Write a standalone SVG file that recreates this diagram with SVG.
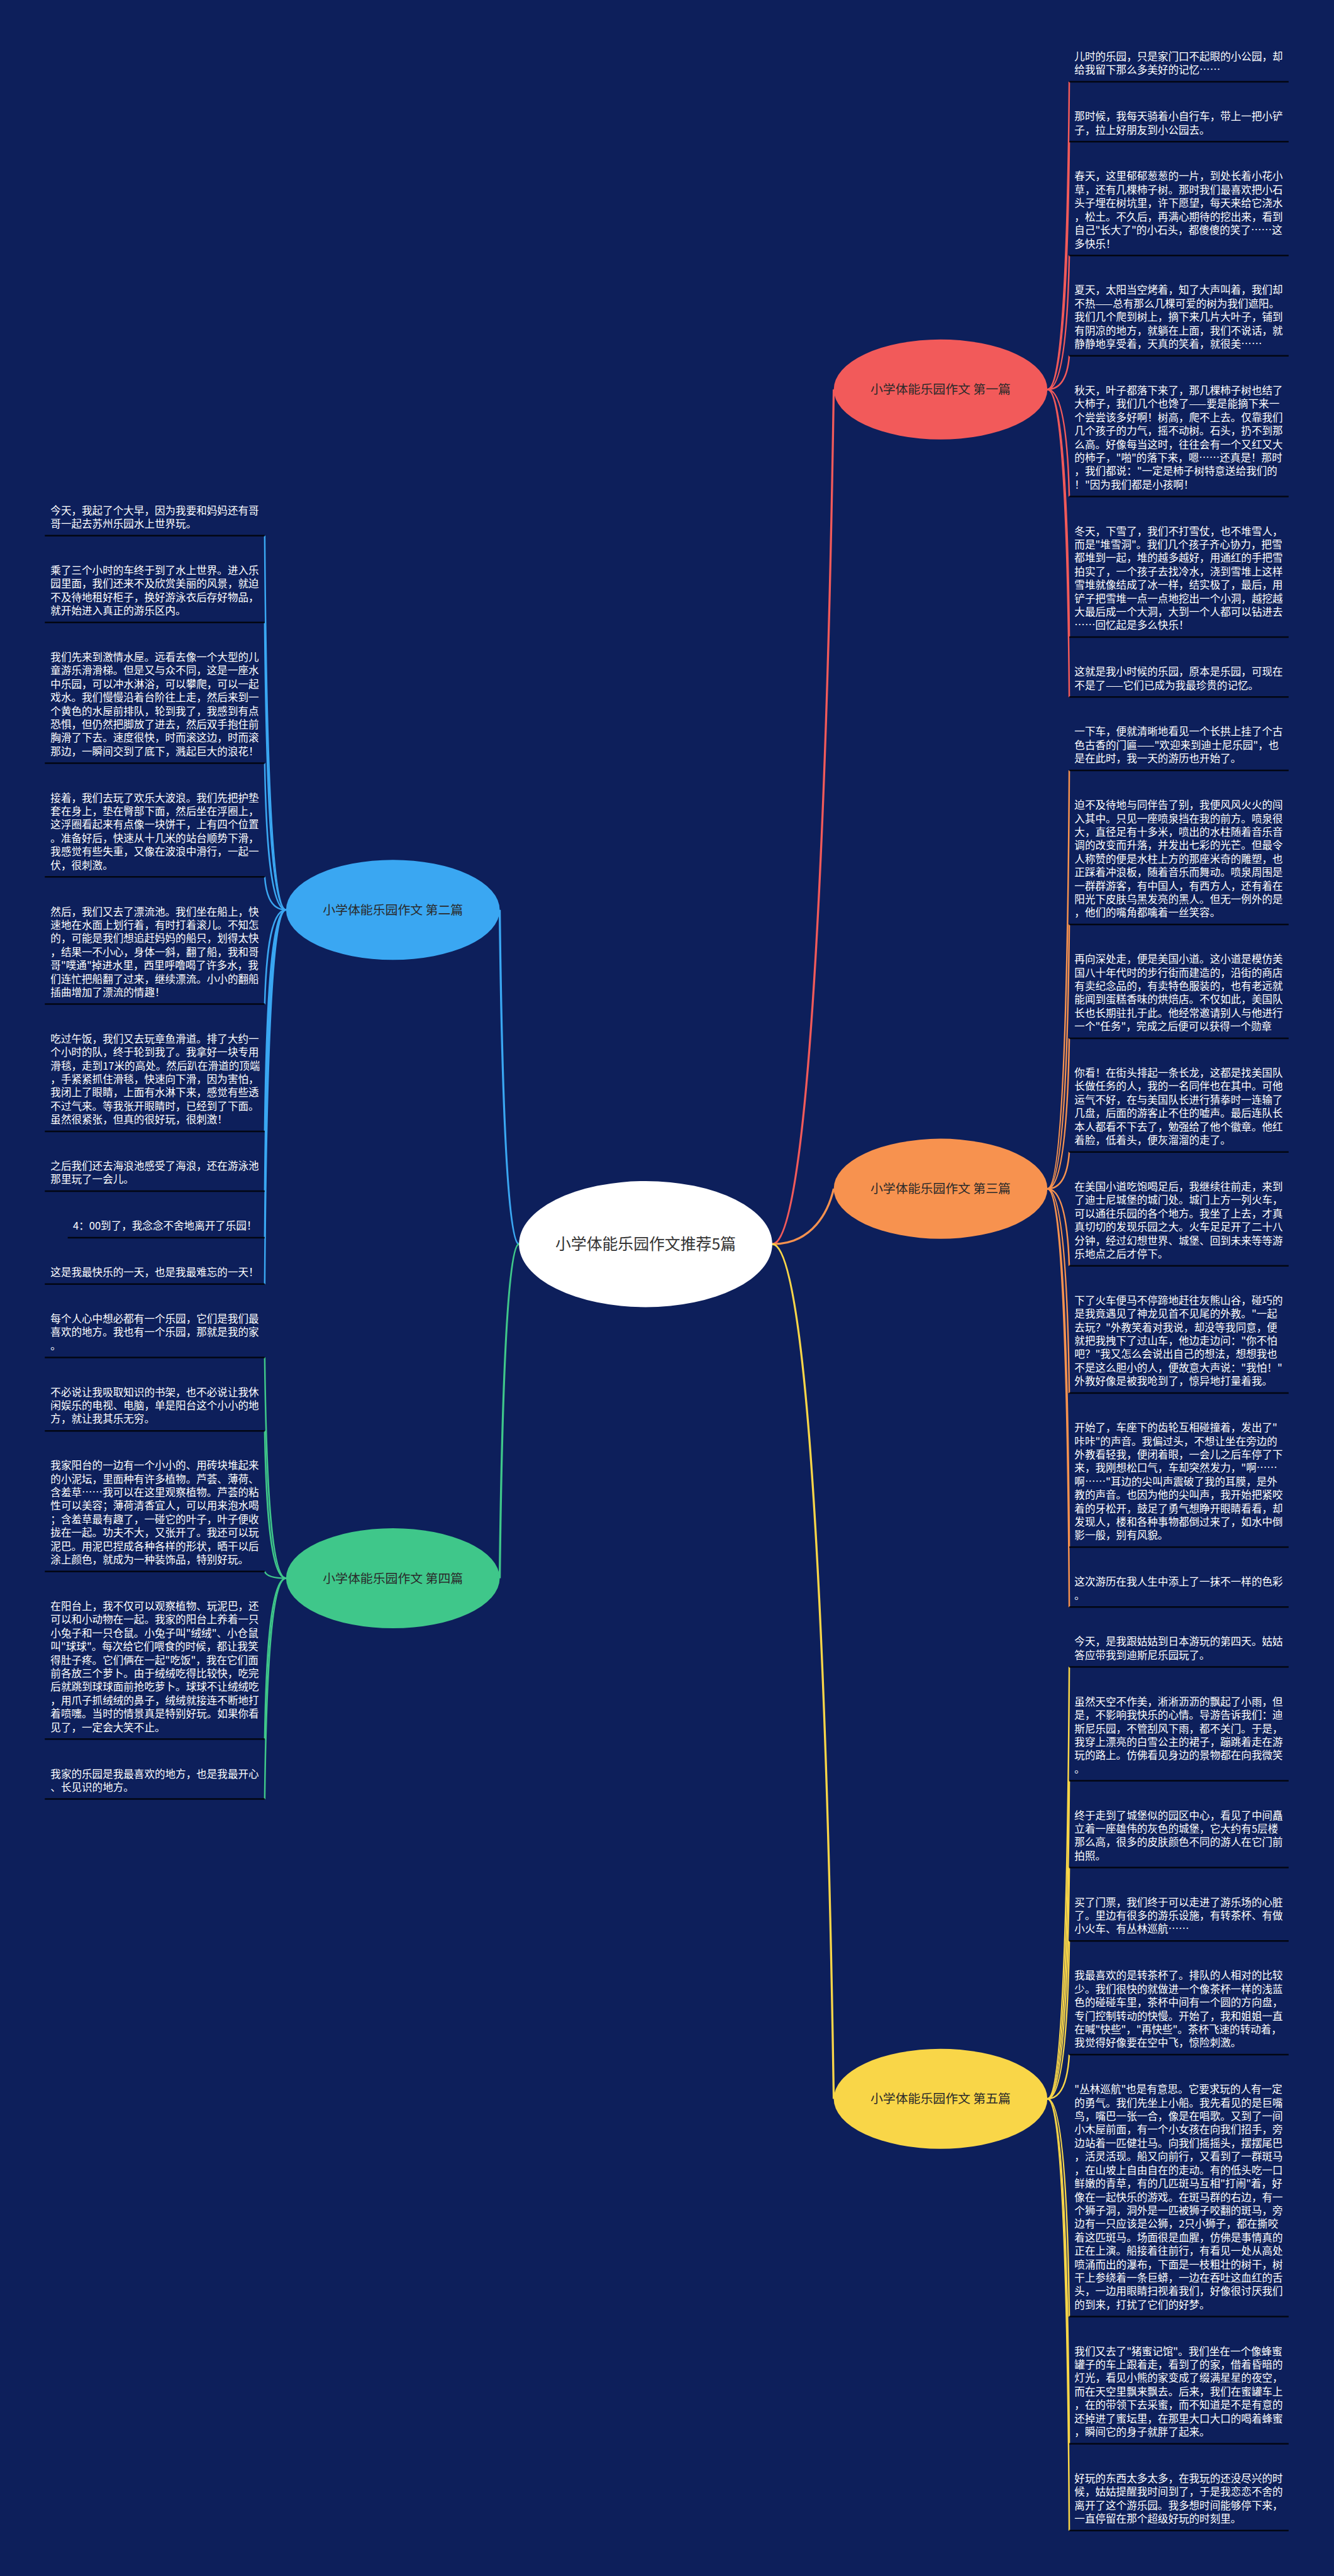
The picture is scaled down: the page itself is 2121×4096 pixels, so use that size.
<svg xmlns="http://www.w3.org/2000/svg" width="2121" height="4096" viewBox="0 0 2121 4096">
<style>
.t{font-family:"Noto Sans CJK SC","Noto Sans",sans-serif;font-size:20px;fill:#ffffff}
.u{stroke:#000;stroke-opacity:0.8;stroke-width:3}
.nt{font-family:"Noto Sans CJK SC","Noto Sans",sans-serif;font-size:24px;fill:#2a2a2a;text-anchor:middle}
.ct{font-family:"Noto Sans CJK SC","Noto Sans",sans-serif;font-size:30px;fill:#333;text-anchor:middle}
.c{fill:none;stroke-width:3}
.m{fill:none;stroke-width:4}
</style>
<rect width="2121" height="4096" fill="#0d1f5b"/>
<g transform="scale(0.8285)">
<g id="connectors">
<path class="m" stroke="#F25A5A" d="M1482,2387.7 C1560,2387.7 1590,1403.5 1600,747.4"/>
<path class="m" stroke="#F7924F" d="M1482,2387.7 C1560,2387.7 1590,2323.9 1600,2281.4"/>
<path class="m" stroke="#F9D648" d="M1482,2387.7 C1560,2387.7 1590,3371.9 1600,4028"/>
<path class="m" stroke="#3AA7F2" d="M996,2387.7 C970,2387.7 962,2002.8 959,1746.2"/>
<path class="m" stroke="#3FC78A" d="M996,2387.7 C970,2387.7 962,2772.5 959,3029"/>
<g stroke="#F25A5A">
<path class="c" d="M2010,747.4 C2043,747.4 2050,393.2 2052,157"/>
<path class="c" d="M2010,747.4 C2043,747.4 2050,462.2 2052,272"/>
<path class="c" d="M2010,747.4 C2043,747.4 2050,593.1 2052,490.3"/>
<path class="c" d="M2010,747.4 C2043,747.4 2050,708.6 2052,682.8"/>
<path class="c" d="M2010,747.4 C2043,747.4 2050,870.6 2052,952.8"/>
<path class="c" d="M2010,747.4 C2043,747.4 2050,1032.6 2052,1222.8"/>
<path class="c" d="M2010,747.4 C2043,747.4 2050,1101.6 2052,1337.7"/>
</g>
<g stroke="#F7924F">
<path class="c" d="M2010,2281.4 C2043,2281.4 2050,1799.7 2052,1478.5"/>
<path class="c" d="M2010,2281.4 C2043,2281.4 2050,1977.2 2052,1774.4"/>
<path class="c" d="M2010,2281.4 C2043,2281.4 2050,2108.2 2052,1992.7"/>
<path class="c" d="M2010,2281.4 C2043,2281.4 2050,2239.2 2052,2211"/>
<path class="c" d="M2010,2281.4 C2043,2281.4 2050,2370.2 2052,2429.3"/>
<path class="c" d="M2010,2281.4 C2043,2281.4 2050,2516.7 2052,2673.5"/>
<path class="c" d="M2010,2281.4 C2043,2281.4 2050,2694.1 2052,2969.3"/>
<path class="c" d="M2010,2281.4 C2043,2281.4 2050,2763.1 2052,3084.3"/>
</g>
<g stroke="#F9D648">
<path class="c" d="M2010,4028 C2043,4028 2050,3530.7 2052,3199.2"/>
<path class="c" d="M2010,4028 C2043,4028 2050,3661.8 2052,3417.6"/>
<path class="c" d="M2010,4028 C2043,4028 2050,3761.7 2052,3584.2"/>
<path class="c" d="M2010,4028 C2043,4028 2050,3846.2 2052,3725"/>
<path class="c" d="M2010,4028 C2043,4028 2050,3977.2 2052,3943.3"/>
<path class="c" d="M2010,4028 C2043,4028 2050,4278.7 2052,4445.9"/>
<path class="c" d="M2010,4028 C2043,4028 2050,4425.2 2052,4690"/>
<path class="c" d="M2010,4028 C2043,4028 2050,4525.2 2052,4856.7"/>
</g>
<g stroke="#3AA7F2">
<path class="c" d="M549,1746.2 C516,1746.2 510,1315.3 508,1028"/>
<path class="c" d="M549,1746.2 C516,1746.2 510,1415.2 508,1194.6"/>
<path class="c" d="M549,1746.2 C516,1746.2 510,1577.2 508,1464.6"/>
<path class="c" d="M549,1746.2 C516,1746.2 510,1708.3 508,1683"/>
<path class="c" d="M549,1746.2 C516,1746.2 510,1854.7 508,1927.1"/>
<path class="c" d="M549,1746.2 C516,1746.2 510,2001.3 508,2171.3"/>
<path class="c" d="M549,1746.2 C516,1746.2 510,2070.2 508,2286.2"/>
<path class="c" d="M549,1746.2 C516,1746.2 510,2123.7 508,2375.4"/>
<path class="c" d="M549,1746.2 C516,1746.2 510,2177.2 508,2464.5"/>
</g>
<g stroke="#3FC78A">
<path class="c" d="M549,3029 C516,3029 510,2774.8 508,2605.3"/>
<path class="c" d="M549,3029 C516,3029 510,2859.3 508,2746.1"/>
<path class="c" d="M549,3029 C516,3029 510,3021.3 508,3016.1"/>
<path class="c" d="M549,3029 C516,3029 510,3214.3 508,3337.8"/>
<path class="c" d="M549,3029 C516,3029 510,3283.2 508,3452.7"/>
</g>
</g>

<g id="root">
<ellipse cx="1239" cy="2387.7" rx="243" ry="121" fill="#ffffff"/>
<text class="ct" x="1239" y="2398">小学体能乐园作文推荐5篇</text>
</g>
<g id="b1"><ellipse cx="1805" cy="747.4" rx="205" ry="96" fill="#F25A5A"/><text class="nt" x="1805" y="756">小学体能乐园作文 第一篇</text></g>
<g id="b3"><ellipse cx="1805" cy="2281.4" rx="205" ry="96" fill="#F7924F"/><text class="nt" x="1805" y="2290">小学体能乐园作文 第三篇</text></g>
<g id="b5"><ellipse cx="1805" cy="4028" rx="205" ry="96" fill="#F9D648"/><text class="nt" x="1805" y="4036.5">小学体能乐园作文 第五篇</text></g>
<g id="b2"><ellipse cx="754" cy="1746.2" rx="205" ry="96" fill="#3AA7F2"/><text class="nt" x="754" y="1754.8">小学体能乐园作文 第二篇</text></g>
<g id="b4"><ellipse cx="754" cy="3029" rx="205" ry="96" fill="#3FC78A"/><text class="nt" x="754" y="3037.6">小学体能乐园作文 第四篇</text></g>

<g id="r1"><line class="u" x1="2052" y1="157" x2="2473" y2="157"/><text class="t"><tspan x="2062" y="115.9">儿时的乐园，只是家门口不起眼的小公园，却</tspan><tspan x="2062" y="141.7">给我留下那么多美好的记忆……</tspan></text></g>
<g id="r2"><line class="u" x1="2052" y1="272" x2="2473" y2="272"/><text class="t"><tspan x="2062" y="230.9">那时候，我每天骑着小自行车，带上一把小铲</tspan><tspan x="2062" y="256.7">子，拉上好朋友到小公园去。</tspan></text></g>
<g id="r3"><line class="u" x1="2052" y1="490.3" x2="2473" y2="490.3"/><text class="t"><tspan x="2062" y="345.8">春天，这里郁郁葱葱的一片，到处长着小花小</tspan><tspan x="2062" y="371.6">草，还有几棵柿子树。那时我们最喜欢把小石</tspan><tspan x="2062" y="397.5">头子埋在树坑里，许下愿望，每天来给它浇水</tspan><tspan x="2062" y="423.3">，松土。不久后，再满心期待的挖出来，看到</tspan><tspan x="2062" y="449.2">自己"长大了"的小石头，都傻傻的笑了……这</tspan><tspan x="2062" y="475">多快乐！</tspan></text></g>
<g id="r4"><line class="u" x1="2052" y1="682.8" x2="2473" y2="682.8"/><text class="t"><tspan x="2062" y="564.1">夏天，太阳当空烤着，知了大声叫着，我们却</tspan><tspan x="2062" y="589.9">不热——总有那么几棵可爱的树为我们遮阳。</tspan><tspan x="2062" y="615.8">我们几个爬到树上，摘下来几片大叶子，铺到</tspan><tspan x="2062" y="641.6">有阴凉的地方，就躺在上面，我们不说话，就</tspan><tspan x="2062" y="667.5">静静地享受着，天真的笑着，就很美……</tspan></text></g>
<g id="r5"><line class="u" x1="2052" y1="952.8" x2="2473" y2="952.8"/><text class="t"><tspan x="2062" y="756.6">秋天，叶子都落下来了，那几棵柿子树也结了</tspan><tspan x="2062" y="782.4">大柿子，我们几个也馋了——要是能摘下来一</tspan><tspan x="2062" y="808.3">个尝尝该多好啊！树高，爬不上去。仅靠我们</tspan><tspan x="2062" y="834.1">几个孩子的力气，摇不动树。石头，扔不到那</tspan><tspan x="2062" y="860">么高。好像每当这时，往往会有一个又红又大</tspan><tspan x="2062" y="885.8">的柿子，"啪"的落下来，嗯……还真是！那时</tspan><tspan x="2062" y="911.7">，我们都说："一定是柿子树特意送给我们的</tspan><tspan x="2062" y="937.5">！"因为我们都是小孩啊！</tspan></text></g>
<g id="r6"><line class="u" x1="2052" y1="1222.8" x2="2473" y2="1222.8"/><text class="t"><tspan x="2062" y="1026.6">冬天，下雪了，我们不打雪仗，也不堆雪人，</tspan><tspan x="2062" y="1052.4">而是"堆雪洞"。我们几个孩子齐心协力，把雪</tspan><tspan x="2062" y="1078.3">都堆到一起，堆的越多越好，用通红的手把雪</tspan><tspan x="2062" y="1104.1">拍实了，一个孩子去找冷水，浇到雪堆上这样</tspan><tspan x="2062" y="1130">雪堆就像结成了冰一样，结实极了，最后，用</tspan><tspan x="2062" y="1155.8">铲子把雪堆一点一点地挖出一个小洞，越挖越</tspan><tspan x="2062" y="1181.7">大最后成一个大洞，大到一个人都可以钻进去</tspan><tspan x="2062" y="1207.5">……回忆起是多么快乐！</tspan></text></g>
<g id="r7"><line class="u" x1="2052" y1="1337.7" x2="2473" y2="1337.7"/><text class="t"><tspan x="2062" y="1296.6">这就是我小时候的乐园，原本是乐园，可现在</tspan><tspan x="2062" y="1322.4">不是了——它们已成为我最珍贵的记忆。</tspan></text></g>
<g id="r8"><line class="u" x1="2052" y1="1478.5" x2="2473" y2="1478.5"/><text class="t"><tspan x="2062" y="1411.5">一下车，便就清晰地看见一个长拱上挂了个古</tspan><tspan x="2062" y="1437.4">色古香的门匾——"欢迎来到迪士尼乐园"，也</tspan><tspan x="2062" y="1463.2">是在此时，我一天的游历也开始了。</tspan></text></g>
<g id="r9"><line class="u" x1="2052" y1="1774.4" x2="2473" y2="1774.4"/><text class="t"><tspan x="2062" y="1552.4">迫不及待地与同伴告了别，我便风风火火的闯</tspan><tspan x="2062" y="1578.2">入其中。只见一座喷泉挡在我的前方。喷泉很</tspan><tspan x="2062" y="1604.1">大，直径足有十多米，喷出的水柱随着音乐音</tspan><tspan x="2062" y="1629.9">调的改变而升落，并发出七彩的光芒。但最令</tspan><tspan x="2062" y="1655.8">人称赞的便是水柱上方的那座米奇的雕塑，也</tspan><tspan x="2062" y="1681.6">正踩着冲浪板，随着音乐而舞动。喷泉周围是</tspan><tspan x="2062" y="1707.4">一群群游客，有中国人，有西方人，还有着在</tspan><tspan x="2062" y="1733.3">阳光下皮肤乌黑发亮的黑人。但无一例外的是</tspan><tspan x="2062" y="1759.1">，他们的嘴角都噙着一丝笑容。</tspan></text></g>
<g id="r10"><line class="u" x1="2052" y1="1992.7" x2="2473" y2="1992.7"/><text class="t"><tspan x="2062" y="1848.2">再向深处走，便是美国小道。这小道是模仿美</tspan><tspan x="2062" y="1874">国八十年代时的步行街而建造的，沿街的商店</tspan><tspan x="2062" y="1899.9">有卖纪念品的，有卖特色服装的，也有老远就</tspan><tspan x="2062" y="1925.7">能闻到蛋糕香味的烘焙店。不仅如此，美国队</tspan><tspan x="2062" y="1951.6">长也长期驻扎于此。他经常邀请别人与他进行</tspan><tspan x="2062" y="1977.4">一个"任务"，完成之后便可以获得一个勋章</tspan></text></g>
<g id="r11"><line class="u" x1="2052" y1="2211" x2="2473" y2="2211"/><text class="t"><tspan x="2062" y="2066.5">你看！在街头排起一条长龙，这都是找美国队</tspan><tspan x="2062" y="2092.3">长做任务的人，我的一名同伴也在其中。可他</tspan><tspan x="2062" y="2118.2">运气不好，在与美国队长进行猜拳时一连输了</tspan><tspan x="2062" y="2144">几盘，后面的游客止不住的嘘声。最后连队长</tspan><tspan x="2062" y="2169.9">本人都看不下去了，勉强给了他个徽章。他红</tspan><tspan x="2062" y="2195.7">着脸，低着头，便灰溜溜的走了。</tspan></text></g>
<g id="r12"><line class="u" x1="2052" y1="2429.3" x2="2473" y2="2429.3"/><text class="t"><tspan x="2062" y="2284.8">在美国小道吃饱喝足后，我继续往前走，来到</tspan><tspan x="2062" y="2310.6">了迪士尼城堡的城门处。城门上方一列火车，</tspan><tspan x="2062" y="2336.5">可以通往乐园的各个地方。我坐了上去，才真</tspan><tspan x="2062" y="2362.3">真切切的发现乐园之大。火车足足开了二十八</tspan><tspan x="2062" y="2388.2">分钟，经过幻想世界、城堡、回到未来等等游</tspan><tspan x="2062" y="2414">乐地点之后才停下。</tspan></text></g>
<g id="r13"><line class="u" x1="2052" y1="2673.5" x2="2473" y2="2673.5"/><text class="t"><tspan x="2062" y="2503.2">下了火车便马不停蹄地赶往灰熊山谷，碰巧的</tspan><tspan x="2062" y="2529">是我竟遇见了神龙见首不见尾的外教。"一起</tspan><tspan x="2062" y="2554.9">去玩？"外教笑着对我说，却没等我同意，便</tspan><tspan x="2062" y="2580.7">就把我拽下了过山车，他边走边问："你不怕</tspan><tspan x="2062" y="2606.5">吧？"我又怎么会说出自己的想法，想想我也</tspan><tspan x="2062" y="2632.4">不是这么胆小的人，便故意大声说："我怕！"</tspan><tspan x="2062" y="2658.2">外教好像是被我呛到了，惊异地打量着我。</tspan></text></g>
<g id="r14"><line class="u" x1="2052" y1="2969.3" x2="2473" y2="2969.3"/><text class="t"><tspan x="2062" y="2747.3">开始了，车座下的齿轮互相碰撞着，发出了"</tspan><tspan x="2062" y="2773.1">咔咔"的声音。我偏过头，不想让坐在旁边的</tspan><tspan x="2062" y="2799">外教看轻我，便闭着眼，一会儿之后车停了下</tspan><tspan x="2062" y="2824.8">来，我刚想松口气，车却突然发力，"啊……</tspan><tspan x="2062" y="2850.7">啊……"耳边的尖叫声震破了我的耳膜，是外</tspan><tspan x="2062" y="2876.5">教的声音。也因为他的尖叫声，我开始把紧咬</tspan><tspan x="2062" y="2902.3">着的牙松开，鼓足了勇气想睁开眼睛看看，却</tspan><tspan x="2062" y="2928.2">发现人，楼和各种事物都倒过来了，如水中倒</tspan><tspan x="2062" y="2954">影一般，别有风貌。</tspan></text></g>
<g id="r15"><line class="u" x1="2052" y1="3084.3" x2="2473" y2="3084.3"/><text class="t"><tspan x="2062" y="3043.2">这次游历在我人生中添上了一抹不一样的色彩</tspan><tspan x="2062" y="3069">。</tspan></text></g>
<g id="r16"><line class="u" x1="2052" y1="3199.2" x2="2473" y2="3199.2"/><text class="t"><tspan x="2062" y="3158.1">今天，是我跟姑姑到日本游玩的第四天。姑姑</tspan><tspan x="2062" y="3183.9">答应带我到迪斯尼乐园玩了。</tspan></text></g>
<g id="r17"><line class="u" x1="2052" y1="3417.6" x2="2473" y2="3417.6"/><text class="t"><tspan x="2062" y="3273.1">虽然天空不作美，淅淅沥沥的飘起了小雨，但</tspan><tspan x="2062" y="3298.9">是，不影响我快乐的心情。导游告诉我们：迪</tspan><tspan x="2062" y="3324.8">斯尼乐园，不管刮风下雨，都不关门。于是，</tspan><tspan x="2062" y="3350.6">我穿上漂亮的白雪公主的裙子，蹦跳着走在游</tspan><tspan x="2062" y="3376.5">玩的路上。仿佛看见身边的景物都在向我微笑</tspan><tspan x="2062" y="3402.3">。</tspan></text></g>
<g id="r18"><line class="u" x1="2052" y1="3584.2" x2="2473" y2="3584.2"/><text class="t"><tspan x="2062" y="3491.4">终于走到了城堡似的园区中心，看见了中间矗</tspan><tspan x="2062" y="3517.2">立着一座雄伟的灰色的城堡，它大约有5层楼</tspan><tspan x="2062" y="3543.1">那么高，很多的皮肤颜色不同的游人在它门前</tspan><tspan x="2062" y="3568.9">拍照。</tspan></text></g>
<g id="r19"><line class="u" x1="2052" y1="3725" x2="2473" y2="3725"/><text class="t"><tspan x="2062" y="3658">买了门票，我们终于可以走进了游乐场的心脏</tspan><tspan x="2062" y="3683.9">了。里边有很多的游乐设施，有转茶杯、有做</tspan><tspan x="2062" y="3709.7">小火车、有丛林巡航……</tspan></text></g>
<g id="r20"><line class="u" x1="2052" y1="3943.3" x2="2473" y2="3943.3"/><text class="t"><tspan x="2062" y="3798.8">我最喜欢的是转茶杯了。排队的人相对的比较</tspan><tspan x="2062" y="3824.6">少。我们很快的就做进一个像茶杯一样的浅蓝</tspan><tspan x="2062" y="3850.5">色的碰碰车里，茶杯中间有一个圆的方向盘，</tspan><tspan x="2062" y="3876.3">专门控制转动的快慢。开始了，我和姐姐一直</tspan><tspan x="2062" y="3902.2">在喊"快些"，"再快些"。茶杯飞速的转动着，</tspan><tspan x="2062" y="3928">我觉得好像要在空中飞，惊险刺激。</tspan></text></g>
<g id="r21"><line class="u" x1="2052" y1="4445.9" x2="2473" y2="4445.9"/><text class="t"><tspan x="2062" y="4017.2">"丛林巡航"也是有意思。它要求玩的人有一定</tspan><tspan x="2062" y="4043">的勇气。我们先坐上小船。我先看见的是巨嘴</tspan><tspan x="2062" y="4068.9">鸟，嘴巴一张一合，像是在唱歌。又到了一间</tspan><tspan x="2062" y="4094.7">小木屋前面，有一个小女孩在向我们招手，旁</tspan><tspan x="2062" y="4120.6">边站着一匹健壮马。向我们摇摇头，摆摆尾巴</tspan><tspan x="2062" y="4146.4">，活灵活现。船又向前行，又看到了一群斑马</tspan><tspan x="2062" y="4172.2">，在山坡上自由自在的走动。有的低头吃一口</tspan><tspan x="2062" y="4198.1">鲜嫩的青草，有的几匹斑马互相"打闹"着，好</tspan><tspan x="2062" y="4223.9">像在一起快乐的游戏。在斑马群的右边，有一</tspan><tspan x="2062" y="4249.8">个狮子洞，洞外是一匹被狮子咬翻的斑马，旁</tspan><tspan x="2062" y="4275.6">边有一只应该是公狮，2只小狮子，都在撕咬</tspan><tspan x="2062" y="4301.5">着这匹斑马。场面很是血腥，仿佛是事情真的</tspan><tspan x="2062" y="4327.3">正在上演。船接着往前行，有看见一处从高处</tspan><tspan x="2062" y="4353.1">喷涌而出的瀑布，下面是一枝粗壮的树干，树</tspan><tspan x="2062" y="4379">干上参绕着一条巨蟒，一边在吞吐这血红的舌</tspan><tspan x="2062" y="4404.8">头，一边用眼睛扫视着我们，好像很讨厌我们</tspan><tspan x="2062" y="4430.6">的到来，打扰了它们的好梦。</tspan></text></g>
<g id="r22"><line class="u" x1="2052" y1="4690" x2="2473" y2="4690"/><text class="t"><tspan x="2062" y="4519.7">我们又去了"猪蜜记馆"。我们坐在一个像蜂蜜</tspan><tspan x="2062" y="4545.5">罐子的车上跟着走，看到了的家，借着昏暗的</tspan><tspan x="2062" y="4571.4">灯光，看见小熊的家变成了缀满星星的夜空，</tspan><tspan x="2062" y="4597.2">而在天空里飘来飘去。后来，我们在蜜罐车上</tspan><tspan x="2062" y="4623">，在的带领下去采蜜，而不知道是不是有意的</tspan><tspan x="2062" y="4648.9">还掉进了蜜坛里，在那里大口大口的喝着蜂蜜</tspan><tspan x="2062" y="4674.7">，瞬间它的身子就胖了起来。</tspan></text></g>
<g id="r23"><line class="u" x1="2052" y1="4856.7" x2="2473" y2="4856.7"/><text class="t"><tspan x="2062" y="4763.9">好玩的东西太多太多，在我玩的还没尽兴的时</tspan><tspan x="2062" y="4789.7">候，姑姑提醒我时间到了，于是我恋恋不舍的</tspan><tspan x="2062" y="4815.6">离开了这个游乐园。我多想时间能够停下来，</tspan><tspan x="2062" y="4841.4">一直停留在那个超级好玩的时刻里。</tspan></text></g>

<g id="l1"><line class="u" x1="86" y1="1028" x2="508" y2="1028"/><text class="t"><tspan x="97" y="986.9">今天，我起了个大早，因为我要和妈妈还有哥</tspan><tspan x="97" y="1012.7">哥一起去苏州乐园水上世界玩。</tspan></text></g>
<g id="l2"><line class="u" x1="86" y1="1194.6" x2="508" y2="1194.6"/><text class="t"><tspan x="97" y="1101.8">乘了三个小时的车终于到了水上世界。进入乐</tspan><tspan x="97" y="1127.6">园里面，我们还来不及欣赏美丽的风景，就迫</tspan><tspan x="97" y="1153.5">不及待地租好柜子，换好游泳衣后存好物品，</tspan><tspan x="97" y="1179.3">就开始进入真正的游乐区内。</tspan></text></g>
<g id="l3"><line class="u" x1="86" y1="1464.6" x2="508" y2="1464.6"/><text class="t"><tspan x="97" y="1268.4">我们先来到激情水屋。远看去像一个大型的儿</tspan><tspan x="97" y="1294.2">童游乐滑滑梯。但是又与众不同，这是一座水</tspan><tspan x="97" y="1320.1">中乐园，可以冲水淋浴，可以攀爬，可以一起</tspan><tspan x="97" y="1345.9">戏水。我们慢慢沿着台阶往上走，然后来到一</tspan><tspan x="97" y="1371.8">个黄色的水屋前排队，轮到我了，我感到有点</tspan><tspan x="97" y="1397.6">恐惧，但仍然把脚放了进去，然后双手抱住前</tspan><tspan x="97" y="1423.5">胸滑了下去。速度很快，时而滚这边，时而滚</tspan><tspan x="97" y="1449.3">那边，一瞬间交到了底下，溅起巨大的浪花！</tspan></text></g>
<g id="l4"><line class="u" x1="86" y1="1683" x2="508" y2="1683"/><text class="t"><tspan x="97" y="1538.5">接着，我们去玩了欢乐大波浪。我们先把护垫</tspan><tspan x="97" y="1564.3">套在身上，垫在臀部下面，然后坐在浮圈上，</tspan><tspan x="97" y="1590.2">这浮圈看起来有点像一块饼干，上有四个位置</tspan><tspan x="97" y="1616">。准备好后，快速从十几米的站台顺势下滑，</tspan><tspan x="97" y="1641.9">我感觉有些失重，又像在波浪中滑行，一起一</tspan><tspan x="97" y="1667.7">伏，很刺激。</tspan></text></g>
<g id="l5"><line class="u" x1="86" y1="1927.1" x2="508" y2="1927.1"/><text class="t"><tspan x="97" y="1756.8">然后，我们又去了漂流池。我们坐在船上，快</tspan><tspan x="97" y="1782.6">速地在水面上划行着，有时打着滚儿。不知怎</tspan><tspan x="97" y="1808.5">的，可能是我们想追赶妈妈的船只，划得太快</tspan><tspan x="97" y="1834.3">，结果一不小心，身体一斜，翻了船，我和哥</tspan><tspan x="97" y="1860.1">哥"噗通"掉进水里，西里呼噜喝了许多水，我</tspan><tspan x="97" y="1886">们连忙把船翻了过来，继续漂流。小小的翻船</tspan><tspan x="97" y="1911.8">插曲增加了漂流的情趣！</tspan></text></g>
<g id="l6"><line class="u" x1="86" y1="2171.3" x2="508" y2="2171.3"/><text class="t"><tspan x="97" y="2001">吃过午饭，我们又去玩章鱼滑道。排了大约一</tspan><tspan x="97" y="2026.8">个小时的队，终于轮到我了。我拿好一块专用</tspan><tspan x="97" y="2052.7">滑毯，走到17米的高处。然后趴在滑道的顶端</tspan><tspan x="97" y="2078.5">，手紧紧抓住滑毯，快速向下滑，因为害怕，</tspan><tspan x="97" y="2104.3">我闭上了眼睛，上面有水淋下来，感觉有些透</tspan><tspan x="97" y="2130.2">不过气来。等我张开眼睛时，已经到了下面。</tspan><tspan x="97" y="2156">虽然很紧张，但真的很好玩，很刺激！</tspan></text></g>
<g id="l7"><line class="u" x1="86" y1="2286.2" x2="508" y2="2286.2"/><text class="t"><tspan x="97" y="2245.1">之后我们还去海浪池感受了海浪，还在游泳池</tspan><tspan x="97" y="2270.9">那里玩了一会儿。</tspan></text></g>
<g id="l8"><line class="u" x1="130" y1="2375.4" x2="508" y2="2375.4"/><text class="t"><tspan x="140" y="2360.1">4：00到了，我念念不舍地离开了乐园！</tspan></text></g>
<g id="l9"><line class="u" x1="86" y1="2464.5" x2="508" y2="2464.5"/><text class="t"><tspan x="97" y="2449.2">这是我最快乐的一天，也是我最难忘的一天！</tspan></text></g>
<g id="l10"><line class="u" x1="86" y1="2605.3" x2="508" y2="2605.3"/><text class="t"><tspan x="97" y="2538.3">每个人心中想必都有一个乐园，它们是我们最</tspan><tspan x="97" y="2564.2">喜欢的地方。我也有一个乐园，那就是我的家</tspan><tspan x="97" y="2590">。</tspan></text></g>
<g id="l11"><line class="u" x1="86" y1="2746.1" x2="508" y2="2746.1"/><text class="t"><tspan x="97" y="2679.1">不必说让我吸取知识的书架，也不必说让我休</tspan><tspan x="97" y="2705">闲娱乐的电视、电脑，单是阳台这个小小的地</tspan><tspan x="97" y="2730.8">方，就让我其乐无穷。</tspan></text></g>
<g id="l12"><line class="u" x1="86" y1="3016.1" x2="508" y2="3016.1"/><text class="t"><tspan x="97" y="2819.9">我家阳台的一边有一个小小的、用砖块堆起来</tspan><tspan x="97" y="2845.7">的小泥坛，里面种有许多植物。芦荟、薄荷、</tspan><tspan x="97" y="2871.6">含羞草……我可以在这里观察植物。芦荟的粘</tspan><tspan x="97" y="2897.4">性可以美容；薄荷清香宜人，可以用来泡水喝</tspan><tspan x="97" y="2923.3">；含羞草最有趣了，一碰它的叶子，叶子便收</tspan><tspan x="97" y="2949.1">拢在一起。功夫不大，又张开了。我还可以玩</tspan><tspan x="97" y="2975">泥巴。用泥巴捏成各种各样的形状，晒干以后</tspan><tspan x="97" y="3000.8">涂上颜色，就成为一种装饰品，特别好玩。</tspan></text></g>
<g id="l13"><line class="u" x1="86" y1="3337.8" x2="508" y2="3337.8"/><text class="t"><tspan x="97" y="3089.9">在阳台上，我不仅可以观察植物、玩泥巴，还</tspan><tspan x="97" y="3115.7">可以和小动物在一起。我家的阳台上养着一只</tspan><tspan x="97" y="3141.6">小兔子和一只仓鼠。小兔子叫"绒绒"、小仓鼠</tspan><tspan x="97" y="3167.4">叫"球球"。每次给它们喂食的时候，都让我笑</tspan><tspan x="97" y="3193.3">得肚子疼。它们俩在一起"吃饭"，我在它们面</tspan><tspan x="97" y="3219.1">前各放三个萝卜。由于绒绒吃得比较快，吃完</tspan><tspan x="97" y="3245">后就跳到球球面前抢吃萝卜。球球不让绒绒吃</tspan><tspan x="97" y="3270.8">，用爪子抓绒绒的鼻子，绒绒就接连不断地打</tspan><tspan x="97" y="3296.7">着喷嚏。当时的情景真是特别好玩。如果你看</tspan><tspan x="97" y="3322.5">见了，一定会大笑不止。</tspan></text></g>
<g id="l14"><line class="u" x1="86" y1="3452.7" x2="508" y2="3452.7"/><text class="t"><tspan x="97" y="3411.6">我家的乐园是我最喜欢的地方，也是我最开心</tspan><tspan x="97" y="3437.4">、长见识的地方。</tspan></text></g>
</g>
</svg>
